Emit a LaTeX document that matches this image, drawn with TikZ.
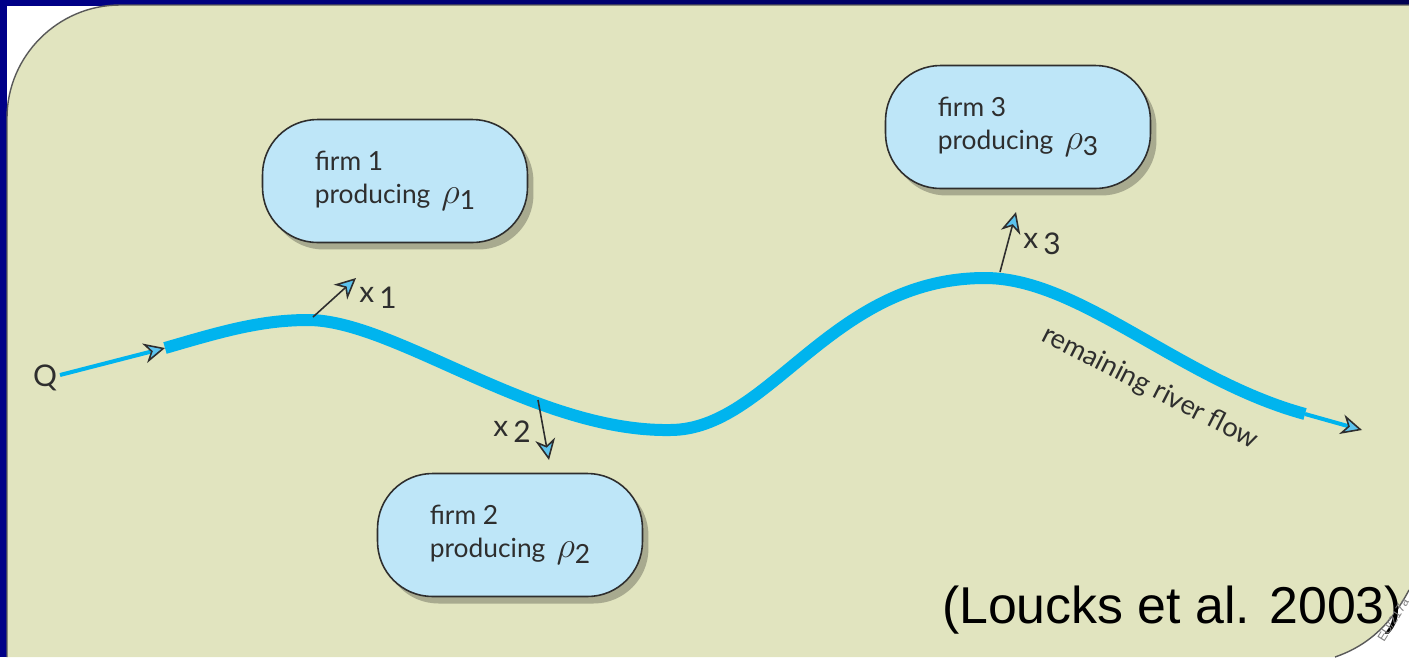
\documentclass[tikz,border=0pt]{standalone}
\usepackage{fontspec}
\usetikzlibrary{arrows.meta,shadows}
\newfontfamily\gillfont{Lato}
\newfontfamily\arialfont{Liberation Sans}
\definecolor{panelbg}{HTML}{E1E4BF}
\definecolor{framenavy}{HTML}{000088}
\definecolor{firmfill}{HTML}{BEE6F8}
\definecolor{riverblue}{HTML}{00B4EE}
\definecolor{tipblue}{HTML}{5CC3EE}
\definecolor{inkgray}{HTML}{2E2E2E}
\newcommand{\lowered}[1]{\raisebox{-0.45ex}{#1}}
\newcommand{\rhoof}[1]{{\fontsize{20}{20}\selectfont$\rho$}\lowered{#1}}
\tikzset{flowtip/.tip={Stealth[length=0.42cm,width=0.40cm,inset=0.13cm,fill=tipblue,color=inkgray,line width=0.9pt]}}
\begin{document}
\begin{tikzpicture}[x=0.02cm,y=-0.02cm,
  firm/.style={draw=inkgray,line width=0.9pt,fill=firmfill,rounded corners=1.1cm,minimum width=5.3cm,minimum height=2.46cm,align=left,font=\gillfont\fontsize{15}{18.5}\selectfont,text=inkgray,drop shadow={shadow xshift=0.12cm,shadow yshift=-0.14cm,fill=black,opacity=0.25}},
  river/.style={riverblue,line width=0.24cm},
  inflow/.style={riverblue,line width=0.08cm,-flowtip},
  take/.style={inkgray,line width=0.9pt,-flowtip},
  lbl/.style={font=\gillfont\fontsize{17}{19}\selectfont,text=inkgray}]
  \useasboundingbox (0,0) rectangle (1409,657);
  % frame and panel
  \fill[white] (0,0) rectangle (1409,657);
  \shade[left color=framenavy,right color=framenavy!60!black] (0,0) rectangle (1409,5);
  \fill[framenavy] (0,0) rectangle (7,657);
  \fill[panelbg] (7,657) -- (7,118) .. controls (7,56) and (58,5) .. (120,5) -- (1409,5)
    -- (1409,590) .. controls (1392,622) and (1370,645) .. (1335,657) -- cycle;
  \draw[gray!70!black,line width=0.8pt] (7,657) -- (7,118) .. controls (7,56) and (58,5) .. (120,5) -- (1409,5);
  \draw[gray!70!black,line width=0.8pt] (1409,590) .. controls (1392,622) and (1370,645) .. (1335,657);
  % firms
  \node[firm] (firm1) at (395,181) {firm 1\\producing\, \rhoof{1}};
  \node[firm] (firm2) at (510,535) {firm 2\\producing\, \rhoof{2}};
  \node[firm] (firm3) at (1018,127) {firm 3\\producing\, \rhoof{3}};
  % river
  \coordinate (src) at (60,375);
  \coordinate (rs) at (165,348);
  \coordinate (p1) at (308,320);
  \coordinate (low) at (670,430);
  \coordinate (p3) at (985,278);
  \coordinate (re) at (1305,414);
  \coordinate (out) at (1362,430);
  \draw[inflow] (src) -- (rs);
  \draw[river] (rs) .. controls (220,332) and (260,320) .. (p1)
    .. controls (395,320) and (535,432) .. (low)
    .. controls (770,430) and (830,278) .. (p3)
    .. controls (1080,278) and (1180,380) .. (re);
  \draw[inflow] (re) -- (out);
  % withdrawals
  \coordinate (w1) at (313,317);
  \coordinate (w2) at (538,400);
  \coordinate (w3) at (1000,272);
  \coordinate (d1) at (356,278);
  \coordinate (d2) at (549,460);
  \coordinate (d3) at (1016,212);
  \draw[take] (w1) -- (d1);
  \draw[take] (w2) -- (d2);
  \draw[take] (w3) -- (d3);
  \node[lbl] (x1) at (378,298) {x\,\lowered{1}};
  \node[lbl] (x2) at (512,432) {x\,\lowered{2}};
  \node[lbl] (x3) at (1042,244) {x\,\lowered{3}};
  \node[lbl] (q) at (45,378) {Q};
  \node[lbl,font=\gillfont\fontsize{15.5}{17}\selectfont,rotate=-27] (rest) at (1150,388) {remaining river flow};
  % source
  \node[font=\arialfont\fontsize{29.5}{32}\selectfont] (cite) at (1172,610) {(Loucks et al. 2003)};
  \node[font=\arialfont\fontsize{7}{8}\selectfont,text=gray,rotate=58] (tag) at (1393,620) {EU/217a};
\end{tikzpicture}
\end{document}
